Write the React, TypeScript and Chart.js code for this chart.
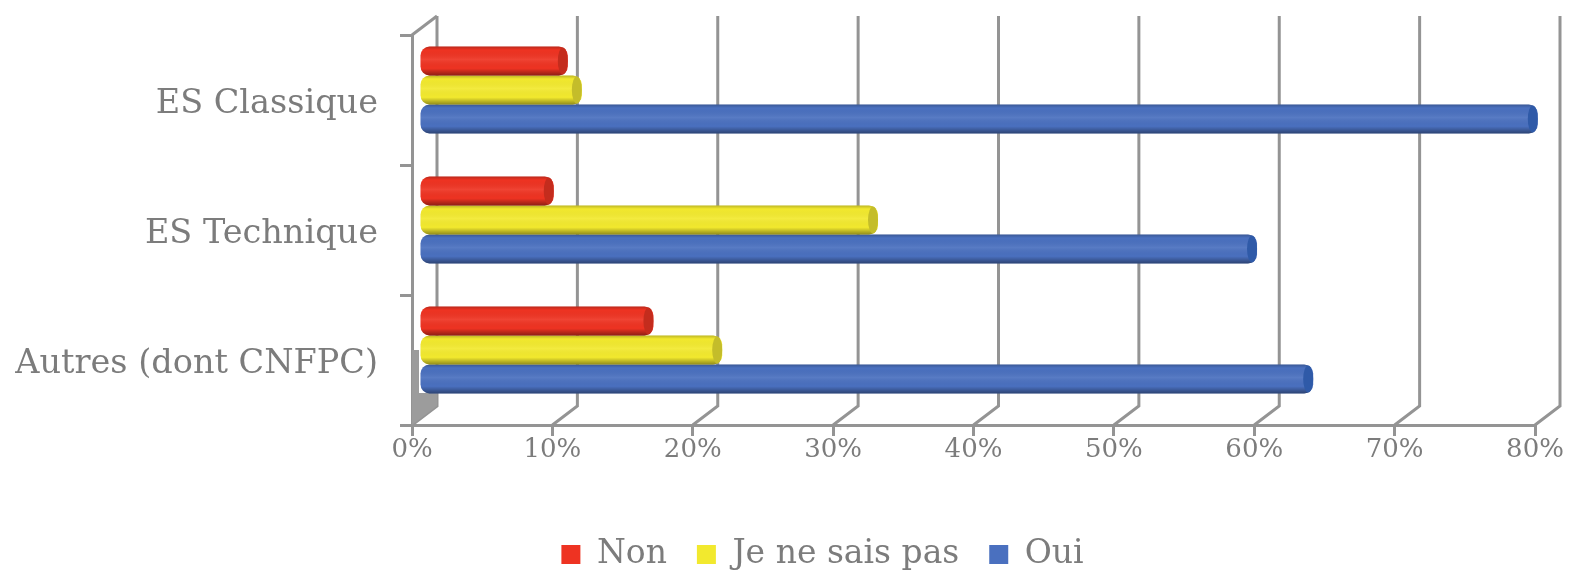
import React, { useEffect, useRef } from "react";
import { Chart, registerables } from "chart.js";

Chart.register(...registerables);

const categories = ["ES Classique", "ES Technique", "Autres (dont CNFPC)"];
const seriesNames = ["Non", "Je ne sais pas", "Oui"];
const nonValues = [10.6, 9.6, 16.7];
const nspValues = [11.6, 32.7, 21.6];
const ouiValues = [79.7, 59.7, 63.7];
const xTicks = [0, 10, 20, 30, 40, 50, 60, 70, 80];

const RED = "#ee3322";
const YELLOW = "#f2e92e";
const BLUE = "#4a70bf";
const CAP = ["#c42c1d", "#c4bd2a", "#2f5aa8"];
const GRID = "#949494";
const TEXT = "#7c7c7c";
const DX = 7;
const DY = -10;
const DEPTH_X = 25;
const DEPTH_Y = 19;

const frame3d = {
  id: "frame3d",
  afterLayout(chart: any) {
    // let the long category label use the whole left margin
    chart.scales.y.left = 0;
  },
  beforeDatasetsDraw(chart: any) {
    const { ctx, scales } = chart;
    const x = scales.x;
    const y = scales.y;
    const bottom = y.bottom;
    const top = y.top;
    ctx.save();
    ctx.strokeStyle = GRID;
    ctx.lineWidth = 3;
    xTicks.forEach((v) => {
      const px = x.getPixelForValue(v);
      ctx.beginPath();
      ctx.moveTo(px, bottom);
      ctx.lineTo(px + DEPTH_X, bottom - DEPTH_Y);
      ctx.lineTo(px + DEPTH_X, top - DEPTH_Y);
      ctx.stroke();
    });
    ctx.beginPath();
    ctx.moveTo(x.left, top);
    ctx.lineTo(x.left + DEPTH_X, top - DEPTH_Y);
    ctx.stroke();
    // left wall and floor wedge
    ctx.fillStyle = "#9c9c9c";
    ctx.beginPath();
    ctx.moveTo(x.left, bottom);
    ctx.lineTo(x.left, bottom - 75);
    ctx.lineTo(x.left + DX, bottom - 75);
    ctx.lineTo(x.left + DX, bottom - 32);
    ctx.lineTo(x.left + DEPTH_X, bottom - 32);
    ctx.lineTo(x.left + DEPTH_X, bottom - DEPTH_Y);
    ctx.closePath();
    ctx.fill();
    ctx.restore();
    ctx.save();
    ctx.translate(DX, DY);
  },
  afterDatasetsDraw(chart: any) {
    const { ctx } = chart;
    chart.data.datasets.forEach((_: any, di: number) => {
      chart.getDatasetMeta(di).data.forEach((el: any) => {
        const p = el.getProps(["x", "y", "base", "height"], true);
        const t = p.y - p.height / 2;
        const left = p.base;
        const right = p.x;
        const h = p.height;
        const g = ctx.createLinearGradient(0, t, 0, t + h);
        g.addColorStop(0, "rgba(0,0,0,0.22)");
        g.addColorStop(0.12, "rgba(0,0,0,0)");
        g.addColorStop(0.45, "rgba(255,255,255,0.08)");
        g.addColorStop(0.75, "rgba(0,0,0,0)");
        g.addColorStop(1, "rgba(0,0,0,0.4)");
        ctx.fillStyle = g;
        ctx.beginPath();
        ctx.roundRect(left, t, right - left, h, 9);
        ctx.fill();
        ctx.fillStyle = CAP[di];
        ctx.beginPath();
        ctx.ellipse(right - 5, t + h / 2, 5, h / 2 - 1, 0, 0, Math.PI * 2);
        ctx.fill();
      });
    });
    ctx.restore();
  },
};

export default function App() {
  const ref = useRef<HTMLCanvasElement>(null);
  useEffect(() => {
    const makeSet = (label: string, data: number[], color: string) => ({
      label,
      data,
      backgroundColor: color,
      borderWidth: 0,
      borderRadius: 9,
      borderSkipped: false,
      barPercentage: 1,
      categoryPercentage: 0.669,
    });
    const chart = new Chart(ref.current as HTMLCanvasElement, {
      type: "bar",
      data: {
        labels: categories,
        datasets: [
          makeSet(seriesNames[0], nonValues, RED),
          makeSet(seriesNames[1], nspValues, YELLOW),
          makeSet(seriesNames[2], ouiValues, BLUE),
        ],
      },
      plugins: [frame3d],
      options: {
        indexAxis: "y",
        responsive: false,
        animation: false,
        layout: { padding: { top: 35, right: 35, left: 110, bottom: -6 } },
        plugins: {
          tooltip: { enabled: false },
          legend: {
            position: "bottom",
            labels: {
              color: TEXT,
              boxWidth: 19,
              boxHeight: 19,
              padding: 30,
              font: { family: "'DejaVu Serif'", size: 33 },
            },
          },
        },
        scales: {
          x: {
            type: "linear",
            min: 0,
            max: 80,
            afterBuildTicks(s: any) {
              s.ticks = xTicks.map((value) => ({ value }));
            },
            afterFit(s: any) {
              s.height = 83;
              s.paddingLeft = 0;
              s.paddingRight = 0;
            },
            border: { color: GRID, width: 3 },
            grid: { drawOnChartArea: false, color: GRID, lineWidth: 3, tickLength: 11 },
            ticks: {
              color: TEXT,
              maxRotation: 0,
              padding: -1,
              font: { family: "'DejaVu Serif'", size: 26 },
              callback: (v: any) => v + "%",
            },
          },
          y: {
            type: "category",
            afterFit(s: any) {
              s.width = 302;
              s.paddingTop = 0;
              s.paddingBottom = 0;
            },
            border: { color: GRID, width: 3 },
            grid: { drawOnChartArea: false, color: GRID, lineWidth: 3, tickLength: 12 },
            ticks: {
              color: TEXT,
              padding: 22,
              labelOffset: 4,
              font: { family: "'DejaVu Serif'", size: 33.5 },
            },
          },
        },
      },
    } as any);
    return () => chart.destroy();
  }, []);
  return (
    <div style={{ position: "fixed", left: 0, top: 0, width: 1570, height: 575, background: "#fff" }}>
      <canvas ref={ref} width={1570} height={575} style={{ display: "block" }} />
    </div>
  );
}
